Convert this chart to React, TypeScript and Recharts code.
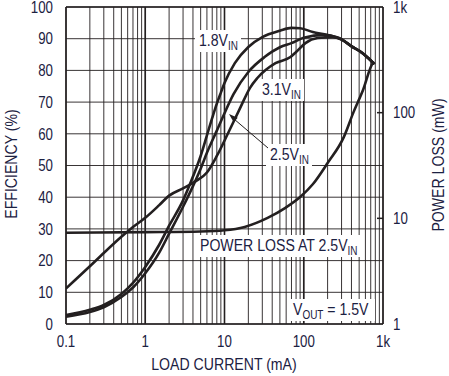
import React from "react";
import { CartesianGrid, Line, LineChart, ReferenceLine, XAxis, YAxis } from "recharts";

const FONT = '"Liberation Sans", Arial, sans-serif';
const INK = "#231f20";
const TEXT = "#1c2142";
const SQUEEZE = 0.83; // the datasheet face is a condensed Helvetica

// load current ticks (mA): every log minor step, labels only on decades
const currentTicks = [
  0.1, 0.2, 0.3, 0.4, 0.5, 0.6, 0.7, 0.8, 0.9,
  1, 2, 3, 4, 5, 6, 7, 8, 9,
  10, 20, 30, 40, 50, 60, 70, 80, 90,
  100, 200, 300, 400, 500, 600, 700, 800, 900, 1000,
];
const decadeLabels: Record<string, string> = { "0.1": "0.1", "1": "1", "10": "10", "100": "100", "1000": "1k" };
const effTicks = [0, 10, 20, 30, 40, 50, 60, 70, 80, 90, 100];
const lossTicks = [1, 10, 100, 1000];

// efficiency, 1.8V in
const cur18 = [0.1, 0.2, 0.3, 0.5, 0.7, 1, 1.5, 2, 3, 4, 5, 6, 7, 8, 9, 10, 13.5, 20, 30, 50, 70, 90, 130, 200, 300, 400, 550, 650, 780];
const eff18 = [2.8, 4.5, 6, 9.5, 13, 18, 25, 31, 39, 46.5, 53, 59.5, 65, 69.5, 73, 76, 82.3, 87.4, 90.5, 92.5, 93.4, 93.3, 92.1, 91.2, 89.8, 87.6, 85.5, 83.9, 82];

// efficiency, 2.5V in
const cur25 = [0.1, 0.2, 0.3, 0.5, 0.7, 1, 1.5, 2, 3, 4, 5, 6, 8, 10, 13, 20, 32, 50, 70, 100, 180, 250, 300, 400, 550, 650, 780];
const eff25 = [2.3, 3.8, 5.3, 8.5, 11.5, 16, 22.5, 28.5, 37, 43.5, 49, 54, 61, 66.5, 72.5, 79.5, 84.2, 87.3, 88.6, 90.3, 91.2, 90.5, 89.8, 87.6, 85.5, 83.9, 82];

// efficiency, 3.1V in
const cur31 = [0.1, 0.2, 0.3, 0.5, 0.7, 1, 1.5, 2, 3, 4.3, 6, 8, 11, 16, 21, 26, 44, 68, 80, 105, 150, 230, 300, 400, 550, 650, 780];
const eff31 = [11.2, 18.2, 22.4, 27.5, 30.6, 33.5, 37.5, 40.5, 42.8, 45, 47.8, 53, 60, 68.5, 74.5, 77.6, 82.3, 84.2, 85.8, 88.6, 90.2, 90.5, 89.7, 87.7, 85.4, 83.9, 82];

// power loss at 2.5V in (mW)
const curLoss = [0.1, 1, 5, 10, 18, 35, 58, 90, 130, 200, 320, 420, 560, 750, 780];
const powerLoss = [7.3, 7.4, 7.5, 7.7, 8.3, 10.1, 12.5, 15.9, 21, 33.4, 58.7, 99, 164, 295, 300];

const effSeries = [
  { name: "1.8V", cur: cur18, eff: eff18 },
  { name: "2.5V", cur: cur25, eff: eff25 },
  { name: "3.1V", cur: cur31, eff: eff31 },
];

const lossData = curLoss.map((i, k) => ({ i, p: powerLoss[k] }));

function Squeezed({ x, y, rotate = 0, anchor = "start", dy, size = 17, children }: any) {
  return (
    <g transform={`translate(${x},${y}) rotate(${rotate}) scale(${SQUEEZE},1)`}>
      <text x={0} y={0} dy={dy} textAnchor={anchor} fill={TEXT} fontSize={size} fontFamily={FONT}>
        {children}
      </text>
    </g>
  );
}

function CurrentTick({ x, y, payload }: any) {
  const label = decadeLabels[String(payload.value)];
  if (!label) return <g />;
  return <Squeezed x={x} y={y} anchor="middle" dy="0.71em" size={16}>{label}</Squeezed>;
}

function EffTick({ x, y, payload }: any) {
  return <Squeezed x={x} y={y} anchor="end" dy="0.36em" size={16}>{payload.value}</Squeezed>;
}

function LossTick({ x, y, payload }: any) {
  const v = payload.value;
  const label = v === 1000 ? "1k" : String(v);
  return (
    <g>
      {v === 10 || v === 100 ? (
        <line x1={x - 16} x2={x - 10} y1={y} y2={y} stroke={INK} strokeWidth={1.5} />
      ) : null}
      <Squeezed x={x} y={y} dy="0.36em" size={16}>{label}</Squeezed>
    </g>
  );
}

function Tag({ x, y, w, main, sub, rest }: { x: number; y: number; w: number; main: string; sub: string; rest?: string }) {
  return (
    <g>
      <rect x={x - 4} y={y - 16} width={w} height={22} fill="#fff" />
      <Squeezed x={x} y={y}>
        {main}
        <tspan fontSize={12} dy={4}>{sub}</tspan>
        {rest ? <tspan dy={-4}>{rest}</tspan> : null}
      </Squeezed>
    </g>
  );
}

export default function App() {
  return (
    <div style={{ position: "absolute", left: 0, top: 0, width: 449, height: 376, background: "#fff" }}>
      <LineChart width={449} height={376} margin={{ top: 7, right: 0, left: 0, bottom: 0 }}>
        <CartesianGrid xAxisId="cur" yAxisId="eff" stroke={INK} strokeWidth={1} strokeOpacity={0.9} />
        <XAxis
          xAxisId="cur"
          dataKey="i"
          type="number"
          scale="log"
          domain={[0.1, 1000]}
          allowDataOverflow
          ticks={currentTicks}
          interval={0}
          height={52}
          tickLine={false}
          tickSize={0}
          tickMargin={12}
          axisLine={{ stroke: INK, strokeWidth: 1.6 }}
          tick={<CurrentTick />}
        />
        <YAxis
          yAxisId="eff"
          type="number"
          domain={[0, 100]}
          ticks={effTicks}
          interval={0}
          width={66}
          tickLine={false}
          tickSize={0}
          tickMargin={13}
          axisLine={{ stroke: INK, strokeWidth: 1.6 }}
          tick={<EffTick />}
        />
        <YAxis
          yAxisId="pl"
          orientation="right"
          type="number"
          scale="log"
          domain={[1, 1000]}
          allowDataOverflow
          ticks={lossTicks}
          interval={0}
          width={66}
          tickLine={false}
          tickSize={0}
          tickMargin={10}
          axisLine={{ stroke: INK, strokeWidth: 1.6 }}
          tick={<LossTick />}
        />
        {[1, 10, 100].map((d) => (
          <ReferenceLine key={d} xAxisId="cur" yAxisId="eff" x={d} stroke={INK} strokeWidth={1.6} />
        ))}
        <ReferenceLine xAxisId="cur" yAxisId="eff" y={100} stroke={INK} strokeWidth={1.6} />
        {effSeries.map((s) => (
          <Line
            key={s.name}
            xAxisId="cur"
            yAxisId="eff"
            data={s.cur.map((i, k) => ({ i, e: s.eff[k] }))}
            dataKey="e"
            type="monotone"
            stroke={INK}
            strokeWidth={2.6}
            dot={false}
            isAnimationActive={false}
          />
        ))}
        <Line
          xAxisId="cur"
          yAxisId="pl"
          data={lossData}
          dataKey="p"
          type="monotone"
          stroke={INK}
          strokeWidth={2.6}
          dot={false}
          isAnimationActive={false}
        />
      </LineChart>

      <svg width={449} height={376} style={{ position: "absolute", left: 0, top: 0, pointerEvents: "none" }}>
        <Tag x={199} y={46} w={46} main="1.8V" sub="IN" />
        <Tag x={262} y={95} w={46} main="3.1V" sub="IN" />
        <Tag x={270} y={160} w={46} main="2.5V" sub="IN" />
        <Tag x={200} y={251} w={166} main="POWER LOSS AT 2.5V" sub="IN" />
        <Tag x={293} y={315} w={86} main="V" sub="OUT" rest=" = 1.5V" />
        <line x1={268} y1={148} x2={234} y2={119} stroke={INK} strokeWidth={1} />
        <polygon points="229,114 237.7,117.8 233.7,122.2" fill={INK} />
        <Squeezed x={224} y={370} anchor="middle">LOAD CURRENT (mA)</Squeezed>
        <Squeezed x={11} y={164} rotate={-90} anchor="middle" dy="0.35em">EFFICIENCY (%)</Squeezed>
        <Squeezed x={438} y={165} rotate={-90} anchor="middle" dy="0.35em">POWER LOSS (mW)</Squeezed>
      </svg>
    </div>
  );
}
